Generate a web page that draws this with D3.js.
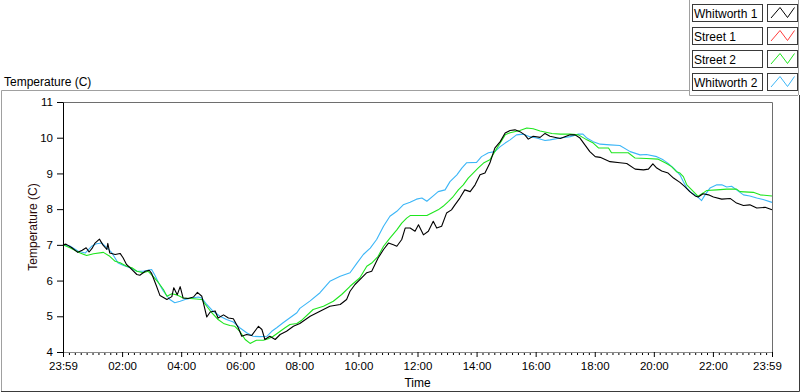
<!DOCTYPE html>
<html>
<head>
<meta charset="utf-8">
<script src="https://cdn.jsdelivr.net/npm/d3@7"></script>
<style>
body{margin:0;background:#fff;}
svg{display:block;font-family:"Liberation Sans",Arial,sans-serif;}
</style>
</head>
<body>
<div id="chart"></div>
<script>
// minutes elapsed since 23:59 (start of the 24 h window)
var tickMinutes = [0,120,240,360,480,600,720,840,960,1080,1200,1320,1440];
var tickLabels = ["23:59","02:00","04:00","06:00","08:00","10:00","12:00","14:00","16:00","18:00","20:00","22:00","23:59"];
var tempTicks = [4,5,6,7,8,9,10,11];

var seriesNames = ["Whitworth 1","Street 1","Street 2","Whitworth 2"];

var whitworth1Time = [0,6,18,30,39,47,53,59,65,74,
	81,89,91,95,106,116,122,129,136,150,
	156,167,175,180,190,197,211,221,225,232,
	238,244,254,265,273,282,292,299,309,315,
	326,336,346,356,363,373,383,397,404,410,
	420,431,441,454,468,481,502,522,542,563,
	576,583,593,607,617,627,640,651,661,671,
	678,688,695,705,715,722,732,742,752,759,
	769,779,789,796,806,816,827,837,847,857,
	867,877,888,898,908,918,928,938,945,955,
	969,979,989,1010,1030,1040,1050,1060,1070,1081,
	1091,1111,1131,1145,1162,1179,1189,1198,1206,1216,
	1229,1240,1253,1263,1273,1284,1290,1300,1311,1321,
	1338,1355,1368,1382,1395,1409,1426,1440];
var whitworth1Temp = [7.00,7.02,6.92,6.79,6.85,6.92,6.80,6.90,7.05,7.16,
	7.00,6.87,7.04,6.77,6.73,6.76,6.64,6.45,6.36,6.17,
	6.15,6.26,6.29,6.20,5.84,5.58,5.47,5.55,5.80,5.60,
	5.83,5.51,5.50,5.54,5.67,5.56,4.98,5.12,5.15,4.95,
	5.04,4.95,4.93,4.68,4.44,4.49,4.46,4.72,4.63,4.35,
	4.44,4.35,4.49,4.58,4.72,4.80,5.00,5.14,5.28,5.33,
	5.47,5.70,5.89,6.08,6.22,6.26,6.63,6.87,7.05,7.00,
	6.96,7.15,7.47,7.47,7.38,7.56,7.28,7.38,7.66,7.47,
	7.52,7.89,7.98,8.12,8.31,8.54,8.49,8.68,8.96,9.01,
	9.29,9.71,9.89,10.13,10.20,10.22,10.17,10.08,9.96,10.04,
	10.01,10.12,10.04,9.98,10.08,10.08,9.99,9.80,9.61,9.47,
	9.45,9.33,9.30,9.28,9.12,9.10,9.12,9.27,9.15,9.07,
	9.01,8.87,8.75,8.63,8.49,8.37,8.34,8.43,8.40,8.34,
	8.28,8.30,8.17,8.10,8.12,8.03,8.05,7.98];

var street1Time = [];
var street1Temp = [];

var street2Time = [0,14,35,48,62,82,95,106,116,129,
	140,150,163,173,183,194,204,211,221,231,
	244,265,282,292,302,315,326,339,349,359,
	370,380,393,407,417,427,437,451,461,475,
	484,508,529,549,566,583,603,617,627,640,
	651,664,678,688,698,705,725,739,749,762,
	772,783,793,803,813,823,833,843,854,867,
	877,888,898,908,928,942,955,969,993,1010,
	1030,1047,1064,1077,1088,1108,1114,1148,1162,1185,
	1209,1226,1236,1246,1253,1260,1267,1277,1290,1300,
	1307,1328,1348,1368,1375,1402,1416,1440];
var street2Temp = [7.00,6.92,6.77,6.70,6.75,6.79,6.68,6.54,6.50,6.40,
	6.36,6.26,6.22,6.26,6.12,5.94,5.75,5.56,5.63,5.60,
	5.51,5.49,5.47,5.28,5.10,4.91,4.80,4.74,4.72,4.58,
	4.35,4.24,4.33,4.33,4.37,4.44,4.54,4.68,4.77,4.80,
	4.88,5.19,5.28,5.42,5.61,5.84,6.08,6.40,6.49,6.68,
	6.96,7.19,7.42,7.61,7.75,7.82,7.82,7.82,7.89,7.98,
	8.08,8.22,8.36,8.54,8.68,8.87,9.01,9.15,9.29,9.38,
	9.61,9.85,10.08,10.14,10.20,10.27,10.25,10.19,10.12,10.10,
	10.10,10.08,9.94,9.85,9.71,9.71,9.58,9.58,9.43,9.42,
	9.40,9.28,9.19,9.05,9.01,8.91,8.68,8.54,8.36,8.45,
	8.52,8.54,8.56,8.56,8.49,8.47,8.40,8.37];

var whitworth2Time = [0,14,31,45,58,68,79,89,99,112,
	122,136,150,163,180,187,194,204,217,227,
	238,248,261,275,282,292,305,319,332,346,
	359,373,386,400,414,424,434,447,461,475,
	481,502,522,542,563,583,597,610,624,637,
	651,664,678,691,705,718,729,739,752,762,
	776,786,800,810,820,840,850,864,877,888,
	898,908,921,935,948,962,979,989,1010,1030,
	1047,1056,1064,1077,1091,1111,1131,1152,1172,1185,
	1206,1219,1229,1240,1253,1260,1267,1277,1287,1297,
	1304,1314,1328,1338,1348,1358,1368,1382,1395,1409,
	1422,1440];
var whitworth2Temp = [7.00,6.97,6.82,6.77,6.96,7.03,7.05,6.92,6.78,6.49,
	6.43,6.36,6.26,6.26,6.31,6.14,5.94,5.70,5.47,5.38,
	5.42,5.47,5.51,5.54,5.51,5.33,5.14,5.00,4.91,4.84,
	4.68,4.54,4.44,4.43,4.44,4.58,4.68,4.82,4.96,5.10,
	5.22,5.43,5.66,5.98,6.12,6.22,6.49,6.73,6.91,7.15,
	7.52,7.80,7.94,8.12,8.19,8.28,8.31,8.22,8.37,8.49,
	8.54,8.77,8.96,9.15,9.30,9.31,9.47,9.58,9.61,9.75,
	9.85,9.94,10.08,10.10,10.03,9.99,9.92,9.94,9.99,10.03,
	10.10,10.10,9.99,9.89,9.82,9.80,9.78,9.61,9.52,9.53,
	9.47,9.38,9.28,9.15,8.96,8.77,8.59,8.45,8.37,8.24,
	8.40,8.59,8.68,8.68,8.62,8.64,8.54,8.40,8.37,8.31,
	8.27,8.19];

var colors = ["#000000","#ff3c3c","#1ee61e","#3cb6f7"];

var width = 800, height = 392;
var plot = {left:63, right:772, top:102, bottom:352};

var svg = d3.select("#chart").append("svg")
	.attr("width", width)
	.attr("height", height);

var xScale = d3.scaleLinear().domain([0,1440]).range([plot.left, plot.right]);
var yScale = d3.scaleLinear().domain([4,11]).range([plot.bottom, plot.top]);

// outer frame
var frame = svg.append("g").attr("fill","none");
frame.append("path").attr("d","M1.5,391V90.5H689").attr("stroke","#a0a0a0");
frame.append("path").attr("d","M689.5,0V95.5H798").attr("stroke","#a0a0a0");
frame.append("path").attr("d","M798.5,0V95").attr("stroke","#a0a0a0");
frame.append("path").attr("d","M1,391.5H799.5V95").attr("stroke","#3a3a3a");

svg.append("text")
	.attr("x",4).attr("y",86)
	.attr("font-size","12px")
	.text("Temperature (C)");

// series lines
var line = d3.line()
	.x(function(d){ return xScale(d[0]); })
	.y(function(d){ return yScale(d[1]); });

var series = [
	d3.zip(whitworth1Time, whitworth1Temp),
	d3.zip(street1Time, street1Temp),
	d3.zip(street2Time, street2Temp),
	d3.zip(whitworth2Time, whitworth2Temp)
];

var lineG = svg.append("g").attr("class","lines");
[3,2,1,0].forEach(function(i){
	if (!series[i].length) return;
	lineG.append("path")
		.datum(series[i])
		.attr("fill","none")
		.attr("stroke",colors[i])
		.attr("stroke-width",1.1)
		.attr("stroke-linejoin","round")
		.attr("d",line);
});

// plot border
svg.append("path").attr("d","M"+plot.left+","+(plot.top+0.5)+"H"+(plot.right+0.5)+"V"+plot.bottom)
	.attr("fill","none").attr("stroke","#6e6e6e");

// y axis
var yAxis = d3.axisLeft(yScale)
	.tickValues(tempTicks)
	.tickFormat(d3.format("d"))
	.tickSizeInner(6)
	.tickSizeOuter(0)
	.tickPadding(4);

var yG = svg.append("g")
	.attr("transform","translate(" + plot.left + ",0)")
	.call(yAxis);
yG.select(".domain").attr("stroke","#000");
yG.selectAll("text").attr("font-size","11.5px").attr("fill","#000").attr("font-family","Liberation Sans, Arial, sans-serif");

svg.append("text")
	.attr("transform","translate(37," + ((plot.top+plot.bottom)/2) + ") rotate(-90)")
	.attr("text-anchor","middle")
	.attr("font-size","12px")
	.attr("fill","#2a0a0a")
	.text("Temperature (C)");

// x axis
var minorTicks = d3.range(0,1441,12).filter(function(m){ return tickMinutes.indexOf(m) < 0; });

var xMinor = d3.axisBottom(xScale)
	.tickValues(minorTicks)
	.tickFormat("")
	.tickSizeInner(3)
	.tickSizeOuter(0);

var xAxis = d3.axisBottom(xScale)
	.tickValues(tickMinutes)
	.tickFormat(function(d,i){ return tickLabels[i]; })
	.tickSizeInner(5)
	.tickSizeOuter(0)
	.tickPadding(5);

var xMinorG = svg.append("g")
	.attr("transform","translate(0," + plot.bottom + ")")
	.call(xMinor);
xMinorG.select(".domain").remove();

var xG = svg.append("g")
	.attr("transform","translate(0," + plot.bottom + ")")
	.call(xAxis);
xG.select(".domain").attr("stroke","#8a8a8a");
xG.selectAll("text").attr("font-size","11.5px").attr("fill","#000").attr("font-family","Liberation Sans, Arial, sans-serif");
xG.selectAll(".tick").filter(function(d,i){ return i === tickMinutes.length - 1; })
	.select("text").attr("dx","-5");

svg.append("text")
	.attr("x",(plot.left+plot.right)/2).attr("y",387)
	.attr("text-anchor","middle")
	.attr("font-size","12px")
	.text("Time");

// legend
var legend = svg.append("g").attr("class","legend");
seriesNames.forEach(function(name,i){
	var yy = 4 + i*23;
	legend.append("rect")
		.attr("x",692.5).attr("y",yy+0.5)
		.attr("width",70).attr("height",17)
		.attr("fill","#fff").attr("stroke","#3a3a3a");
	legend.append("text")
		.attr("x",694).attr("y",yy+14)
		.attr("font-size","12px")
		.text(name);
	legend.append("rect")
		.attr("x",767.5).attr("y",yy+0.5)
		.attr("width",30).attr("height",17)
		.attr("fill","#fff").attr("stroke","#3a3a3a");
	legend.append("path")
		.attr("d","M"+771+","+(yy+14)+"L"+780+","+(yy+3.5)+"L"+787.5+","+(yy+13.5)+"L"+794.5+","+(yy+3.5))
		.attr("fill","none")
		.attr("stroke",colors[i]);
});
</script>
</body>
</html>
